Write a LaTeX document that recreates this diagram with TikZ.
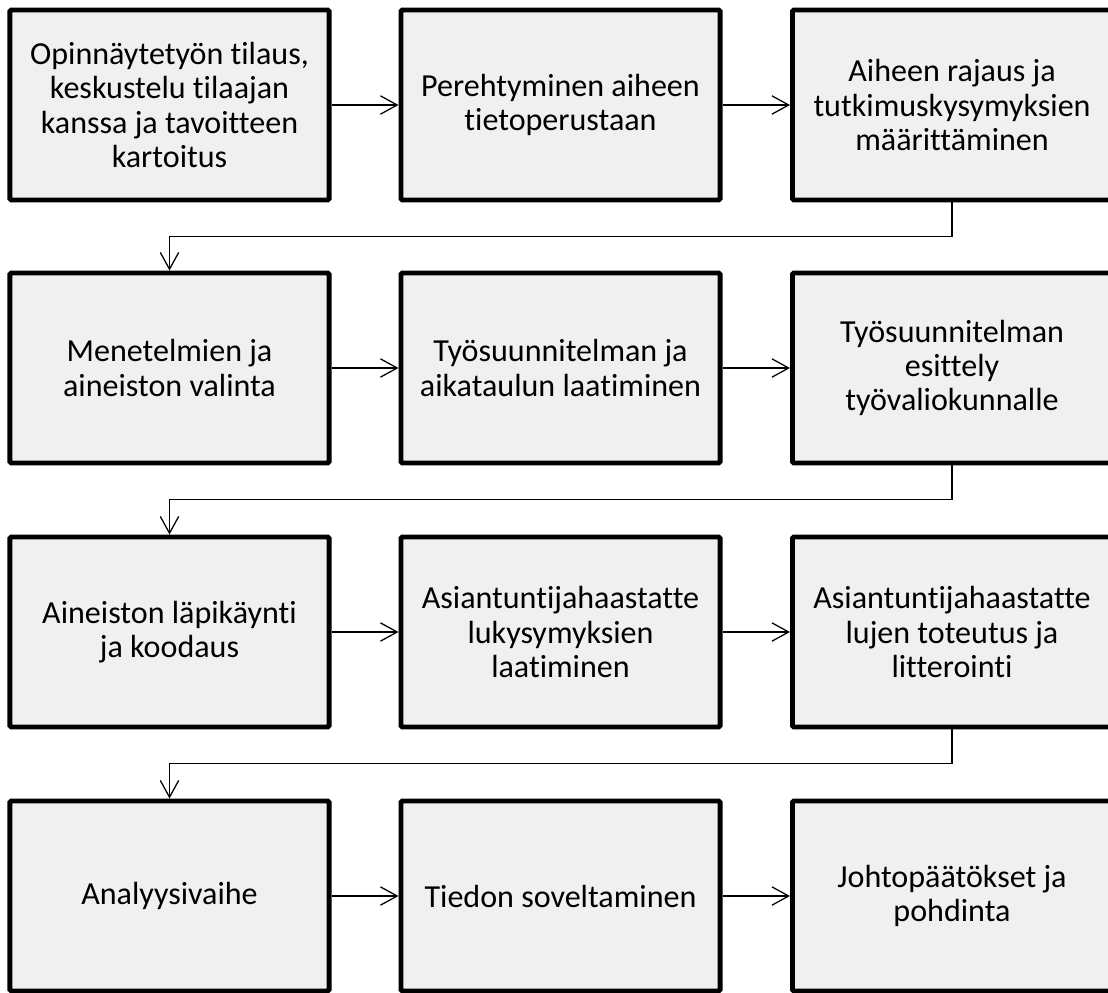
\documentclass[tikz,border=0pt]{standalone}
\usepackage{fontspec}
\setmainfont{Carlito}[Ligatures=NoCommon]
\usetikzlibrary{arrows.meta}
\definecolor{boxgray}{RGB}{240,240,240}

\begin{document}
\begin{tikzpicture}[x=0.025cm,y=-0.025cm,>={Straight Barb[length=0.42cm,width=0.46cm]},
    phase/.style={draw,line width=3.5pt,fill=boxgray,rounded corners=1pt,
        minimum width=7.975cm,minimum height=4.75cm,inner sep=0pt,
        align=center,font=\fontsize{22.8}{24.4}\selectfont},
    link/.style={->,line width=0.9pt}]
        \useasboundingbox (0,0) rectangle (1108,992);
        % first row
        \node[phase] (tilaus) at (169.5,105) {Opinnäytetyön tilaus,\\keskustelu tilaajan\\kanssa ja tavoitteen\\kartoitus};
        \node[phase] (perehtyminen) at (560.5,105) {Perehtyminen aiheen\\tietoperustaan};
        \node[phase] (rajaus) at (952,105) {Aiheen rajaus ja\\tutkimuskysymyksien\\määrittäminen};
        % second row
        \node[phase] (valinta) at (169.5,368) {Menetelmien ja\\aineiston valinta};
        \node[phase] (suunnitelma) at (560.5,368) {Työsuunnitelman ja\\aikataulun laatiminen};
        \node[phase] (esittely) at (952,368) {Työsuunnitelman\\esittely\\työvaliokunnalle};
        % third row
        \node[phase] (aineisto) at (169.5,632) {Aineiston läpikäynti\\ja koodaus};
        \node[phase] (kysymykset) at (560.5,632) {Asiantuntijahaastatte\\lukysymyksien\\laatiminen};
        \node[phase] (haastattelut) at (952,632) {Asiantuntijahaastatte\\lujen toteutus ja\\litterointi};
        % fourth row
        \node[phase] (analyysi) at (169.5,896) {Analyysivaihe};
        \node[phase] (soveltaminen) at (560.5,896) {Tiedon soveltaminen};
        \node[phase] (pohdinta) at (952,896) {Johtopäätökset ja\\pohdinta};
        % arrows
        \draw[link] (tilaus) -- (perehtyminen);
        \draw[link] (perehtyminen) -- (rajaus);
        \draw[link] (rajaus.south) -- ++(0,34) -| (valinta.north);
        \draw[link] (valinta) -- (suunnitelma);
        \draw[link] (suunnitelma) -- (esittely);
        \draw[link] (esittely.south) -- ++(0,34) -| (aineisto.north);
        \draw[link] (aineisto) -- (kysymykset);
        \draw[link] (kysymykset) -- (haastattelut);
        \draw[link] (haastattelut.south) -- ++(0,34) -| (analyysi.north);
        \draw[link] (analyysi) -- (soveltaminen);
        \draw[link] (soveltaminen) -- (pohdinta);
    \end{tikzpicture}
\end{document}
